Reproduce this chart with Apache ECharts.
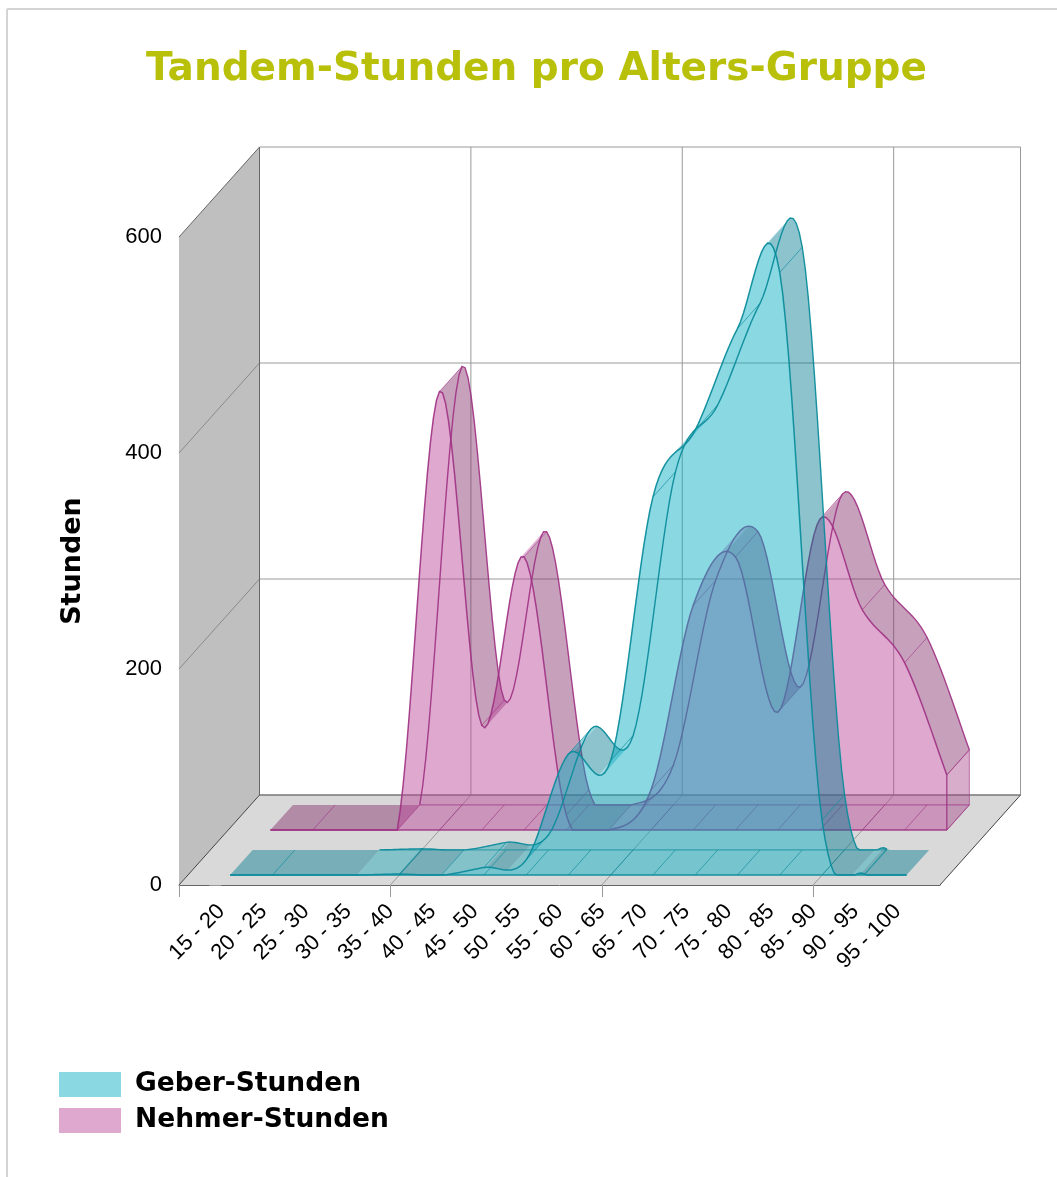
<!DOCTYPE html>
<html>
<head>
<meta charset="utf-8">
<style>html,body{margin:0;padding:0;background:#fff}#c{width:1057px;height:1177px}</style>
<script src="https://cdn.jsdelivr.net/npm/echarts@6/dist/echarts.min.js"></script>
</head>
<body>
<div id="c"></div>
<script>
var categories = ['15 - 20','20 - 25','25 - 30','30 - 35','35 - 40','40 - 45','45 - 50','50 - 55','55 - 60','60 - 65','65 - 70','70 - 75','75 - 80','80 - 85','85 - 90','90 - 95','95 - 100'];
var geberValues  = [0,0,0,0,1,0,7,14,112,106,350,412,506,558,51,1,0];
var nehmerValues = [0,0,0,0,406,97,253,14,0,37,208,253,109,288,204,155,51];
var yTicks = [0,200,400,600];
var xTickIndexes = [-1,4,9,14];
var geberRibs  = [1,4,5,6,7,8,9,10,11,12,13,14,15];
var nehmerRibs = [1,3,4,5,6,7,8,9,10,11,12,13,14,15,16];

var DEPTH = [80.5,-90];
var STEPS = 14;

function add(p, f){ return [p[0]+DEPTH[0]*f, p[1]+DEPTH[1]*f]; }

function sampleCurve(pts, base){
  var out = [];
  for (var i=0;i<pts.length-1;i++){
    var p0=pts[Math.max(i-1,0)],p1=pts[i],p2=pts[i+1],p3=pts[Math.min(i+2,pts.length-1)];
    var c1=[p1[0]+(p2[0]-p0[0])/6,p1[1]+(p2[1]-p0[1])/6];
    var c2=[p2[0]-(p3[0]-p1[0])/6,p2[1]-(p3[1]-p1[1])/6];
    for (var s=0;s<STEPS;s++){
      var t=s/STEPS,u=1-t;
      var x=u*u*u*p1[0]+3*u*u*t*c1[0]+3*u*t*t*c2[0]+t*t*t*p2[0];
      var y=u*u*u*p1[1]+3*u*u*t*c1[1]+3*u*t*t*c2[1]+t*t*t*p2[1];
      out.push([x,Math.min(y,base)]);
    }
  }
  var l=pts[pts.length-1];
  out.push([l[0],Math.min(l[1],base)]);
  return out;
}

function areaChildren(api, values, f0, f1, st, ribs){
  var pts = values.map(function(v,i){ return add(api.coord([i,v]), f0); });
  var base = add(api.coord([0,0]), f0)[1];
  var curve = sampleCurve(pts, base);
  var dx = DEPTH[0]*(f1-f0), dy = DEPTH[1]*(f1-f0);
  function back(p){ return [p[0]+dx,p[1]+dy]; }
  var kids = [];
  var first=0,lastNz=values.length-1;
  while(first<values.length&&values[first]===0)first++;
  while(lastNz>0&&values[lastNz]===0)lastNz--;
  var firstPt=pts[Math.max(first-1,0)], endPt=pts[lastNz];
  // top surfaces, merged into runs by how they face the viewer
  var run=null, runKind=null;
  function flush(){
    if(run && run.length>1){
      var poly = run.concat(run.slice().reverse().map(back));
      kids.push({type:'polygon',shape:{points:poly},silent:true,
        style:{fill: runKind==='dark'?st.top:st.rise}});
    }
    run=null;
  }
  for (var i=0;i<curve.length-1;i++){
    var a=curve[i],b=curve[i+1],sx=b[0]-a[0],sy=b[1]-a[1];
    var cross=sx*dy-sy*dx;
    var kind = cross>=0 ? null : (sy>=-0.001?'dark':'light');
    if(kind!==runKind){ flush(); runKind=kind; if(kind) run=[a]; }
    if(kind) run.push(b);
  }
  flush();
  // end cap
  var lastV = values[values.length-1];
  var last = pts[pts.length-1], lastBase=[last[0],base];
  if(lastV>0){
    kids.push({type:'polygon',shape:{points:[last,back(last),back(lastBase),lastBase]},silent:true,
      style:{fill:st.cap,stroke:st.rib,lineWidth:1}});
  }
  // front face
  var face = curve.concat([[curve[curve.length-1][0],base],[curve[0][0],base]]);
  kids.push({type:'polygon',shape:{points:face},silent:true,style:{fill:st.face}});
  // ribs, on the floor and on the surface
  ribs.forEach(function(i){
    var p=[pts[i][0],Math.min(pts[i][1],base)];
    kids.push({type:'line',shape:{x1:p[0],y1:base,x2:p[0]+dx,y2:base+dy},silent:true,style:{stroke:st.rib,lineWidth:1}});
    if(p[1]<base) kids.push({type:'line',shape:{x1:p[0],y1:p[1],x2:p[0]+dx,y2:p[1]+dy},silent:true,style:{stroke:st.rib,lineWidth:1}});
  });
  // back curve and back floor edge: only over the stretch where the series has hours
  var from=Math.max(first-1,0)*STEPS,to=lastNz*STEPS+1;
  kids.push({type:'polyline',shape:{points:curve.slice(from,to).map(back)},silent:true,style:{stroke:st.line,fill:'none',lineWidth:1.4}});
  kids.push({type:'line',shape:{x1:firstPt[0]+dx,y1:base+dy,x2:endPt[0]+dx,y2:base+dy},silent:true,style:{stroke:st.rib,lineWidth:1.2}});
  // front curve + baseline
  kids.push({type:'polyline',shape:{points:curve},silent:true,style:{stroke:st.line,fill:'none',lineWidth:1.5}});
  kids.push({type:'line',shape:{x1:curve[0][0],y1:base,x2:last[0],y2:base},silent:true,style:{stroke:st.line,lineWidth:1.5}});
  if(lastV>0) kids.push({type:'line',shape:{x1:last[0],y1:last[1],x2:last[0],y2:base},silent:true,style:{stroke:st.line,lineWidth:1}});
  return {type:'group',children:kids};
}

var geberStyle = {face:'rgba(4,172,193,0.47)',top:'rgba(0,122,144,0.45)',rise:'rgba(4,160,180,0.40)',cap:'rgba(0,122,144,0.45)',
  line:'rgba(12,140,155,0.95)',rib:'rgba(12,140,155,0.65)'};
var nehmerStyle = {face:'rgba(185,70,153,0.47)',top:'rgba(131,44,107,0.45)',rise:'rgba(185,70,153,0.40)',cap:'rgba(160,60,130,0.42)',
  line:'rgba(158,48,130,0.9)',rib:'rgba(158,48,130,0.6)'};

function rowData(values){ return values.map(function(v,i){ return [i,v]; }); }

function renderWalls(params, api){
  if(params.dataIndex!==0) return null;
  var xMin=-1,xMax=17,yMax=yTicks[yTicks.length-1];
  var A=api.coord([xMin,0]),B=api.coord([xMax,0]),T=api.coord([xMin,yMax]);
  var Ab=add(A,1),Bb=add(B,1),Tb=add(T,1),Rb=add(api.coord([xMax,yMax]),1);
  var kids=[
    {type:'polygon',shape:{points:[A,T,Tb,Ab]},silent:true,style:{fill:'#bfbfbf'}},
    {type:'polygon',shape:{points:[A,B,Bb,Ab]},silent:true,style:{fill:'#d9d9d9'}}
  ];
  function ln(p,q,c){ kids.push({type:'line',shape:{x1:p[0],y1:p[1],x2:q[0],y2:q[1]},silent:true,style:{stroke:c,lineWidth:1}}); }
  yTicks.forEach(function(v){
    var p=api.coord([xMin,v]),q=add(p,1),r=add(api.coord([xMax,v]),1);
    ln(q,r,'#999999');
    if(v!==0&&v!==yMax) ln(p,q,'#8a8a8a');
  });
  xTickIndexes.slice(1).forEach(function(i){
    var p=api.coord([i,0]),q=add(p,1),r=add(api.coord([i,yMax]),1);
    ln(p,q,'#9a9a9a'); ln(q,r,'#999999');
  });
  ln(Bb,Rb,'#999999');
  ln(Ab,Tb,'#666666');
  ln(T,Tb,'#666666');
  ln(A,Ab,'#444444');
  ln(B,Bb,'#444444');
  ln(Ab,Bb,'#666666');
  return {type:'group',children:kids};
}

function renderGeber(params, api){
  if(params.dataIndex!==0) return null;
  return areaChildren(api,geberValues,0.11,0.39,geberStyle,geberRibs);
}
function renderNehmer(params, api){
  if(params.dataIndex!==0) return null;
  return areaChildren(api,nehmerValues,0.61,0.89,nehmerStyle,nehmerRibs);
}

var chart = echarts.init(document.getElementById('c'),null,{renderer:'canvas'});
chart.setOption({
  animation:false,
  backgroundColor:'#ffffff',
  title:{text:'Tandem-Stunden pro Alters-Gruppe',left:531.5,top:45,textAlign:'center',
    textStyle:{fontFamily:'DejaVu Sans',fontWeight:'bold',fontSize:39,color:'#b9c00a'}},
  legend:{left:59,top:1071,padding:0,orient:'vertical',itemWidth:62,itemHeight:25,itemGap:9,selectedMode:false,
    textStyle:{fontFamily:'DejaVu Sans',fontWeight:'bold',fontSize:26.5,color:'#000',padding:[0,0,0,9]},
    data:[{name:'Geber-Stunden',icon:'rect',itemStyle:{color:'#89d8e2'}},
          {name:'Nehmer-Stunden',icon:'rect',itemStyle:{color:'#dfa8cf'}}]},
  grid:{left:179,right:117,top:237,bottom:292},
  xAxis:{type:'value',min:-1,max:17,interval:1,splitLine:{show:false},
    axisLine:{lineStyle:{color:'#666666'}},
    axisTick:{length:12,lineStyle:{color:'#999999'},customValues:xTickIndexes},
    axisLabel:{rotate:45,margin:23,fontFamily:'Liberation Sans',fontSize:22,color:'#000',
      customValues:categories.map(function(c,i){return i;}),
      formatter:function(v){return categories[v]||'';}}},
  yAxis:{type:'value',min:0,max:600,interval:200,splitLine:{show:false},
    name:'Stunden',nameLocation:'middle',nameGap:93,
    nameTextStyle:{fontFamily:'DejaVu Sans',fontWeight:'bold',fontSize:27,color:'#000'},
    axisLine:{show:true,lineStyle:{color:'#444444'}},
    axisTick:{show:true,length:12,lineStyle:{color:'#999999'}},
    axisLabel:{margin:17,fontFamily:'Liberation Sans',fontSize:22,color:'#000'}},
  graphic:[
    {type:'line',shape:{x1:7,y1:9,x2:1057,y2:9},style:{stroke:'#d4d4d4',lineWidth:2},silent:true},
    {type:'line',shape:{x1:7,y1:9,x2:7,y2:1177},style:{stroke:'#d4d4d4',lineWidth:2},silent:true}
  ],
  series:[
    {type:'custom',name:'Wände',silent:true,z:1,renderItem:renderWalls,encode:{x:0,y:1},data:rowData(yTicks)},
    {type:'custom',name:'Nehmer-Stunden',silent:true,z:2,renderItem:renderNehmer,encode:{x:0,y:1},data:rowData(nehmerValues)},
    {type:'custom',name:'Geber-Stunden',silent:true,z:3,renderItem:renderGeber,encode:{x:0,y:1},data:rowData(geberValues)}
  ]
});
</script>
</body>
</html>
